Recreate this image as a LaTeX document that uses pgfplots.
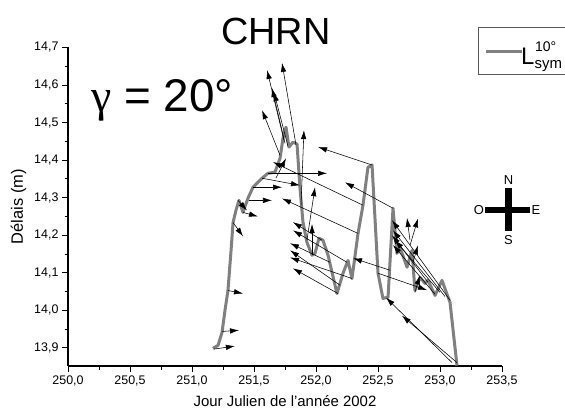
\documentclass[border=0pt]{standalone}
\usepackage{fontspec}
\setmainfont{Liberation Sans}
\newfontfamily\seriffont{Liberation Serif}
\usepackage{pgfplots}
\pgfplotsset{compat=1.18}
\usepackage{pgfplotstable}
\usetikzlibrary{arrows.meta}
\definecolor{lgray}{RGB}{128,128,128}

\pgfplotstableread{
x y
251.169 13.899
251.210 13.907
251.242 13.941
251.266 14.000
251.290 14.053
251.315 14.160
251.331 14.234
251.355 14.267
251.379 14.293
251.411 14.261
251.452 14.299
251.492 14.328
251.565 14.352
251.613 14.365
251.669 14.368
251.710 14.405
251.734 14.459
251.758 14.488
251.782 14.435
251.815 14.448
251.847 14.443
251.871 14.325
251.895 14.235
251.927 14.181
251.968 14.147
251.992 14.152
252.024 14.192
252.056 14.187
252.097 14.147
252.169 14.045
252.218 14.099
252.258 14.133
252.290 14.085
252.339 14.205
252.379 14.280
252.419 14.381
252.452 14.387
252.500 14.099
252.540 14.032
252.581 14.035
252.621 14.272
252.653 14.152
252.677 14.168
252.734 14.115
252.774 14.160
252.798 14.053
252.839 14.088
252.879 14.072
252.903 14.080
252.960 14.040
253.016 14.080
253.081 14.021
253.137 13.853
}\linedata

\pgfplotstableread{
x y u v
251.177 13.897 0.169 0.008
251.242 13.944 0.137 0.003
251.290 14.053 0.121 -0.008
251.331 14.234 0.081 -0.037
251.371 14.293 0.073 -0.027
251.411 14.261 0.121 -0.011
251.460 14.293 0.185 0
251.492 14.328 0.234 0
251.565 14.352 0.306 -0.019
251.613 14.365 0.476 0
251.677 14.352 0.081 0.053
251.710 14.413 -0.145 0.120
251.742 14.453 -0.137 0.187
251.750 14.445 -0.105 0.147
251.774 14.437 -0.113 0.144
251.839 14.440 -0.113 0.219
251.879 14.280 0.024 0.200
251.927 14.187 0.065 0.141
251.968 14.147 0 0.083
252.379 14.280 -0.726 0.115
252.339 14.205 -0.613 0.093
252.452 14.387 -0.435 0.048
252.621 14.272 -0.387 0.069
252.048 14.187 -0.234 0.048
252.250 14.128 -0.435 0.085
252.113 14.128 -0.323 0.051
252.194 14.067 -0.403 0.093
252.290 14.085 -0.500 0.056
252.177 14.045 -0.363 0.067
253.097 13.861 -0.532 0.173
253.137 13.861 -0.444 0.125
252.500 14.099 0.395 -0.045
252.597 14.107 -0.298 0.032
253.081 14.027 -0.468 0.213
253.040 14.037 -0.419 0.176
253.000 14.048 -0.363 0.139
252.960 14.043 -0.339 0.131
252.903 14.075 -0.290 0.125
252.758 14.187 -0.024 0.059
252.758 14.173 0.065 0.072
252.782 14.128 0.040 0.045
252.798 14.048 0.040 0.045
}\arrowdata

\begin{document}
\begin{tikzpicture}
\begin{axis}[
  at={(0,0)}, anchor=south west,
  scale only axis, width=434bp, height=318.5bp,
  xmin=250, xmax=253.5, ymin=13.852, ymax=14.7,
  axis x line*=bottom, axis y line*=left,
  axis line style={line width=1.2bp},
  xtick={250,250.5,251,251.5,252,252.5,253,253.5},
  ytick={13.9,14.0,14.1,14.2,14.3,14.4,14.5,14.6,14.7},
  minor x tick num=1, minor y tick num=1,
  tick align=outside,
  major tick length=6bp, minor tick length=3.5bp,
  every tick/.style={black, line width=1bp},
  tick label style={font=\fontsize{12.5}{14}\selectfont},
  /pgf/number format/.cd, use comma, fixed, fixed zerofill, precision=1, assume math mode=true,
  /pgfplots/.cd,
  xlabel={Jour Julien de l'année 2002},
  ylabel={Délais (m)},
  xlabel style={font=\fontsize{15}{16}\selectfont, yshift=-3bp},
  ylabel style={font=\fontsize{16.5}{18}\selectfont, yshift=1bp},
  clip=false,
]
\addplot[lgray, line width=3bp, line join=round] table[x=x,y=y] {\linedata};
\addplot[black, line width=0.55bp, -{Latex[length=9bp,width=5.5bp]},
  quiver={u=\thisrow{u}, v=\thisrow{v}}] table[x=x,y=y] {\arrowdata};
\end{axis}
% title and annotations (1 bp = 1 px, axis origin at pixel (68,366))
\node[anchor=base, font=\fontsize{38}{40}\selectfont, inner sep=0] at (208bp,321bp) {CHRN};
\node[anchor=base west, font=\fontsize{46}{48}\selectfont, inner sep=0] at (23bp,254bp) {{\seriffont γ} = 20°};
% legend
\draw[black!65, line width=0.9bp, fill=white] (410bp,339bp) rectangle (515bp,292bp);
\draw[lgray, line width=3bp] (418bp,314bp) -- (454bp,314bp);
\node[anchor=base west, font=\fontsize{24}{26}\selectfont, inner sep=0] at (453bp,301bp) {L};
\node[anchor=base west, font=\fontsize{14}{15}\selectfont, inner sep=0] at (467bp,314bp) {10°};
\node[anchor=base west, font=\fontsize{15}{16}\selectfont, inner sep=0] at (466.5bp,297bp) {sym};
% compass
\draw[line width=7bp] (440.5bp,178bp) -- (440.5bp,135bp);
\draw[line width=6.5bp] (417bp,156bp) -- (462bp,156bp);
\node[font=\fontsize{13}{14}\selectfont, inner sep=0] at (440.5bp,186bp) {N};
\node[font=\fontsize{13}{14}\selectfont, inner sep=0] at (440.5bp,126bp) {S};
\node[font=\fontsize{13}{14}\selectfont, inner sep=0] at (411bp,156bp) {O};
\node[font=\fontsize{13}{14}\selectfont, inner sep=0] at (468bp,156bp) {E};
\pgfresetboundingbox
\path[use as bounding box] (-68bp,-44bp) rectangle (497bp,366bp);
\end{tikzpicture}
\end{document}
